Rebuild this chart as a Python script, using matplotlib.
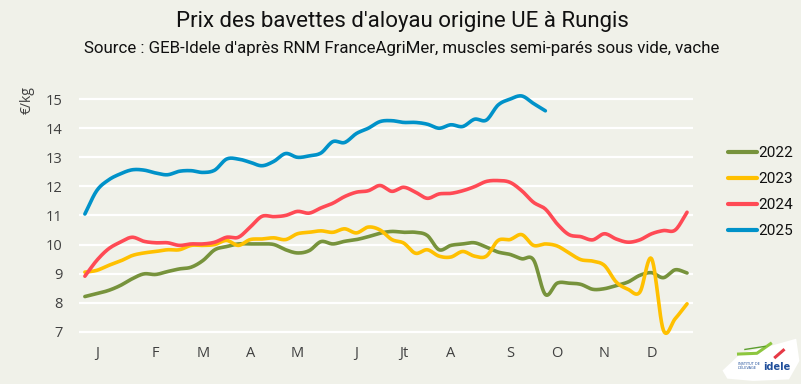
import matplotlib
matplotlib.use("Agg")
import matplotlib.pyplot as plt
from matplotlib.patches import Polygon
import numpy as np

# weekly prices, €/kg
weeks = np.arange(1, 53)
p2022 = [8.21, 8.31, 8.42, 8.59, 8.82, 8.99, 8.97, 9.07, 9.16, 9.22, 9.45, 9.82, 9.93,
         10.02, 10.02, 10.02, 10.0, 9.82, 9.71, 9.79, 10.1, 10.02, 10.11, 10.17, 10.27, 10.39,
         10.45, 10.42, 10.42, 10.31, 9.82, 9.97, 10.02, 10.06, 9.91, 9.74, 9.66, 9.51, 9.47,
         8.28, 8.67, 8.67, 8.63, 8.46, 8.48, 8.59, 8.71, 8.94, 9.03, 8.86, 9.13, 9.02]
p2023 = [9.05, 9.11, 9.28, 9.43, 9.62, 9.71, 9.76, 9.82, 9.82, 9.97, 9.97, 10.0, 10.14,
         9.97, 10.17, 10.19, 10.23, 10.17, 10.37, 10.42, 10.47, 10.42, 10.54, 10.4, 10.6, 10.5,
         10.17, 10.05, 9.7, 9.82, 9.6, 9.57, 9.76, 9.6, 9.6, 10.14, 10.17, 10.34, 9.97,
         10.02, 9.95, 9.71, 9.48, 9.43, 9.28, 8.71, 8.46, 8.36, 9.51, 7.05, 7.45, 7.96]
p2024 = [8.91, 9.45, 9.85, 10.08, 10.25, 10.11, 10.06, 10.06, 9.97, 10.02, 10.02, 10.08, 10.25,
         10.25, 10.6, 10.97, 10.96, 11.0, 11.14, 11.08, 11.26, 11.42, 11.65, 11.8, 11.85, 12.03,
         11.83, 11.97, 11.8, 11.59, 11.74, 11.76, 11.85, 11.99, 12.17, 12.2, 12.14, 11.85, 11.45,
         11.22, 10.71, 10.34, 10.27, 10.16, 10.37, 10.19, 10.08, 10.16, 10.37, 10.48, 10.5, 11.11]
p2025 = [11.05, 11.85, 12.22, 12.43, 12.57, 12.56, 12.46, 12.40, 12.52, 12.54, 12.48, 12.56, 12.94,
         12.94, 12.83, 12.71, 12.86, 13.13, 13.0, 13.05, 13.15, 13.54, 13.51, 13.82, 14.0, 14.23,
         14.26, 14.2, 14.2, 14.14, 14.0, 14.12, 14.06, 14.31, 14.28, 14.8, 15.0, 15.11, 14.85,
         14.6]

month_weeks = [2, 7, 11, 15, 19, 24, 28, 32, 37, 41, 45, 49]
month_labels = ["J", "F", "M", "A", "M", "J", "Jt", "A", "S", "O", "N", "D"]

series = [("2022", p2022, "#77933C"), ("2023", p2023, "#FFC000"),
          ("2024", p2024, "#FF4A55"), ("2025", p2025, "#0092C9")]

bg = "#F0F1E9"
narrow = ["Roboto", "DejaVu Sans"]


def smooth(x, y, n=12):
    # Catmull-Rom style smoothing, like the spreadsheet "smoothed line"
    x = np.asarray(x, float)
    y = np.asarray(y, float)
    px = np.concatenate([[2 * x[0] - x[1]], x, [2 * x[-1] - x[-2]]])
    py = np.concatenate([[2 * y[0] - y[1]], y, [2 * y[-1] - y[-2]]])
    xs, ys = [], []
    for i in range(1, len(px) - 2):
        t = np.linspace(0, 1, n, endpoint=False)
        for arr, out in ((px, xs), (py, ys)):
            p0, p1, p2, p3 = arr[i - 1], arr[i], arr[i + 1], arr[i + 2]
            out.extend(0.5 * (2 * p1 + (-p0 + p2) * t + (2 * p0 - 5 * p1 + 4 * p2 - p3) * t ** 2
                              + (-p0 + 3 * p1 - 3 * p2 + p3) * t ** 3))
    xs.append(x[-1])
    ys.append(y[-1])
    return np.array(xs), np.array(ys)


fig = plt.figure(figsize=(8.01, 3.84), dpi=100, facecolor=bg)
ax = fig.add_axes([0.0986, 0.121, 0.7665, 0.651], facecolor=bg)

for name, vals, col in series:
    sx, sy = smooth(weeks[:len(vals)], vals)
    ax.plot(sx, sy, color=col, lw=2.6, solid_capstyle="round", label=name)

ax.set_xlim(0.5, 52.5)
ax.set_ylim(6.8, 15.4)
ax.set_yticks(range(7, 16))
ax.set_xticks(month_weeks)
ax.set_xticklabels(month_labels)
ax.grid(axis="y", color="white", lw=1.6)
ax.set_axisbelow(True)
for s in ax.spines.values():
    s.set_visible(False)
ax.tick_params(length=0, labelsize=10.5, labelcolor="#404040", pad=6)
ax.tick_params(axis="y", pad=12)
for lab in ax.get_xticklabels() + ax.get_yticklabels():
    lab.set_fontfamily("Open Sans")

fig.text(0.034, 0.74, "€/kg", rotation=90, ha="center", va="center",
         fontsize=10, color="#404040", family="Open Sans")

fig.text(0.502, 0.945, "Prix des bavettes d'aloyau origine UE à Rungis", ha="center",
         va="center", fontsize=16, color="#111111", family=narrow)
fig.text(0.501, 0.873, "Source : GEB-Idele d'après RNM FranceAgriMer, muscles semi-parés sous vide, vache",
         ha="center", va="center", fontsize=12.2, color="#111111", family=narrow)

leg = ax.legend(loc="upper left", bbox_to_anchor=(1.057, 0.765), frameon=False,
                fontsize=11, handlelength=1.9, handletextpad=0.1, labelspacing=0.78,
                borderpad=0, borderaxespad=0)
for t in leg.get_texts():
    t.set_fontfamily(narrow)
    t.set_color("#111111")
for h in leg.get_lines():
    h.set_linewidth(3)

# logo blob
blob = Polygon([[0.902, 0.035], [0.925, 0.08], [0.96, 0.098], [0.994, 0.118], [0.998, 0.06],
                [0.985, 0.012], [0.94, 0.008], [0.908, 0.014]], closed=True,
               transform=fig.transFigure, facecolor="white", edgecolor="none")
fig.patches.append(blob)
fig.text(0.953, 0.045, "idele", fontsize=7, color="#1F4E9A", weight="bold",
         ha="left", va="center")
fig.text(0.921, 0.047, "INSTITUT DE\nL'ÉLEVAGE", fontsize=2.5, color="#1F4E9A",
         ha="left", va="center")
fig.lines.append(plt.Line2D([0.922, 0.945, 0.962], [0.078, 0.08, 0.105], transform=fig.transFigure,
                            color="#8DC63F", lw=2.2))
fig.lines.append(plt.Line2D([0.93, 0.955], [0.09, 0.098], transform=fig.transFigure,
                            color="#5B9E2D", lw=1))
fig.lines.append(plt.Line2D([0.968, 0.978], [0.07, 0.088], transform=fig.transFigure,
                            color="#E63946", lw=2.2))

fig.savefig("out.png", dpi=100, facecolor=bg)
